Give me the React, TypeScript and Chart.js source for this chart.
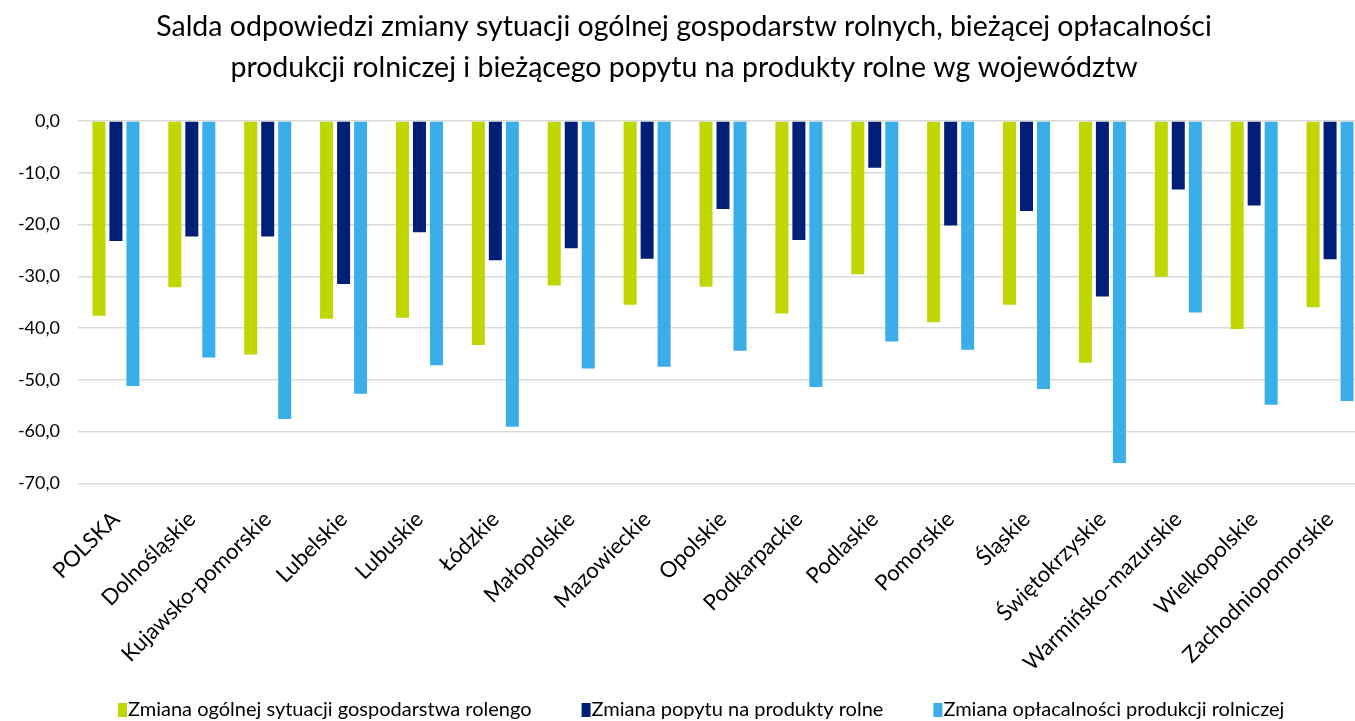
import React, { useEffect, useRef } from "react";
import { Chart, registerables } from "chart.js";

Chart.register(...registerables);

const categories = [
  "POLSKA",
  "Dolnośląskie",
  "Kujawsko-pomorskie",
  "Lubelskie",
  "Lubuskie",
  "Łódzkie",
  "Małopolskie",
  "Mazowieckie",
  "Opolskie",
  "Podkarpackie",
  "Podlaskie",
  "Pomorskie",
  "Śląskie",
  "Świętokrzyskie",
  "Warmińsko-mazurskie",
  "Wielkopolskie",
  "Zachodniopomorskie",
];

const ogolnaSytuacja = [
  -37.6, -32.1, -45.1, -38.2, -38.0, -43.3, -31.8, -35.5, -32.0, -37.2, -29.6, -38.9, -35.5, -46.7, -30.1, -40.2, -36.0,
];
const popyt = [
  -23.2, -22.3, -22.3, -31.5, -21.5, -26.9, -24.6, -26.6, -17.0, -23.0, -9.0, -20.2, -17.4, -33.9, -13.2, -16.3, -26.7,
];
const oplacalnosc = [
  -51.2, -45.7, -57.6, -52.7, -47.2, -59.1, -47.8, -47.5, -44.4, -51.4, -42.6, -44.2, -51.8, -66.1, -37.0, -54.8, -54.1,
];

const seriesNames = [
  "Zmiana ogólnej sytuacji gospodarstwa rolengo",
  "Zmiana popytu na produkty rolne",
  "Zmiana opłacalności produkcji rolniczej",
];

const seriesColors = ["#BFD600", "#001F76", "#3AAEE8"];

const titleLines = [
  "Salda odpowiedzi zmiany sytuacji ogólnej gospodarstw rolnych, bieżącej opłacalności",
  "produkcji rolniczej i bieżącego popytu na produkty rolne wg województw",
];

const FONT = "Lato";

// custom bottom legend drawn on the canvas
const bottomLegend = {
  id: "bottomLegend",
  afterDraw(c: any) {
    const ctx = c.ctx;
    ctx.save();
    ctx.font = `20px ${FONT}`;
    ctx.textBaseline = "middle";
    ctx.textAlign = "left";
    const cy = 710;
    let x = 118;
    c.data.datasets.forEach((ds: any) => {
      ctx.fillStyle = ds.backgroundColor;
      ctx.fillRect(x, cy - 7, 9, 14);
      ctx.fillStyle = "#000";
      ctx.fillText(ds.label, x + 10, cy);
      x += 10 + ctx.measureText(ds.label).width + 50;
    });
    ctx.restore();
  },
};

export default function App() {
  const ref = useRef<HTMLCanvasElement | null>(null);

  useEffect(() => {
    document.body.style.margin = "0";
    const canvas = ref.current;
    if (!canvas) return;
    const chart = new Chart(canvas, {
      type: "bar",
      data: {
        labels: categories,
        datasets: [
          { label: seriesNames[0], data: ogolnaSytuacja, backgroundColor: seriesColors[0] },
          { label: seriesNames[1], data: popyt, backgroundColor: seriesColors[1] },
          { label: seriesNames[2], data: oplacalnosc, backgroundColor: seriesColors[2] },
        ],
      },
      options: {
        animation: false,
        responsive: false,
        maintainAspectRatio: false,
        layout: { padding: { left: 0, right: 0, top: 0, bottom: 30 } },
        datasets: {
          bar: { categoryPercentage: 0.672, barPercentage: 0.765 },
        },
        plugins: {
          title: {
            display: true,
            text: titleLines,
            color: "#000",
            font: { family: FONT, size: 28.5, weight: "normal", lineHeight: 1.44 },
            padding: { top: 6.5, bottom: 32.5 },
          },
          legend: { display: false },
          tooltip: { enabled: false },
        },
        scales: {
          x: {
            grid: { display: false },
            border: { display: false },
            ticks: {
              color: "#000",
              font: { family: FONT, size: 22 },
              minRotation: 45,
              maxRotation: 45,
              autoSkip: false,
              padding: 15,
            },
          },
          y: {
            min: -70,
            max: 0,
            grid: { color: "#D9D9D9", lineWidth: 1.5, drawTicks: false },
            border: { display: false },
            afterFit: (scale: any) => {
              scale.width = 78;
            },
            ticks: {
              stepSize: 10,
              color: "#000",
              padding: 18,
              font: { family: FONT, size: 18 },
              callback: (v: any) => Number(v).toFixed(1).replace(".", ","),
            },
          },
        },
      },
      plugins: [bottomLegend],
    });
    return () => chart.destroy();
  }, []);

  return (
    <div style={{ width: 1355, height: 721, overflow: "hidden" }}>
      <canvas ref={ref} width={1368} height={721} style={{ display: "block" }} />
    </div>
  );
}
